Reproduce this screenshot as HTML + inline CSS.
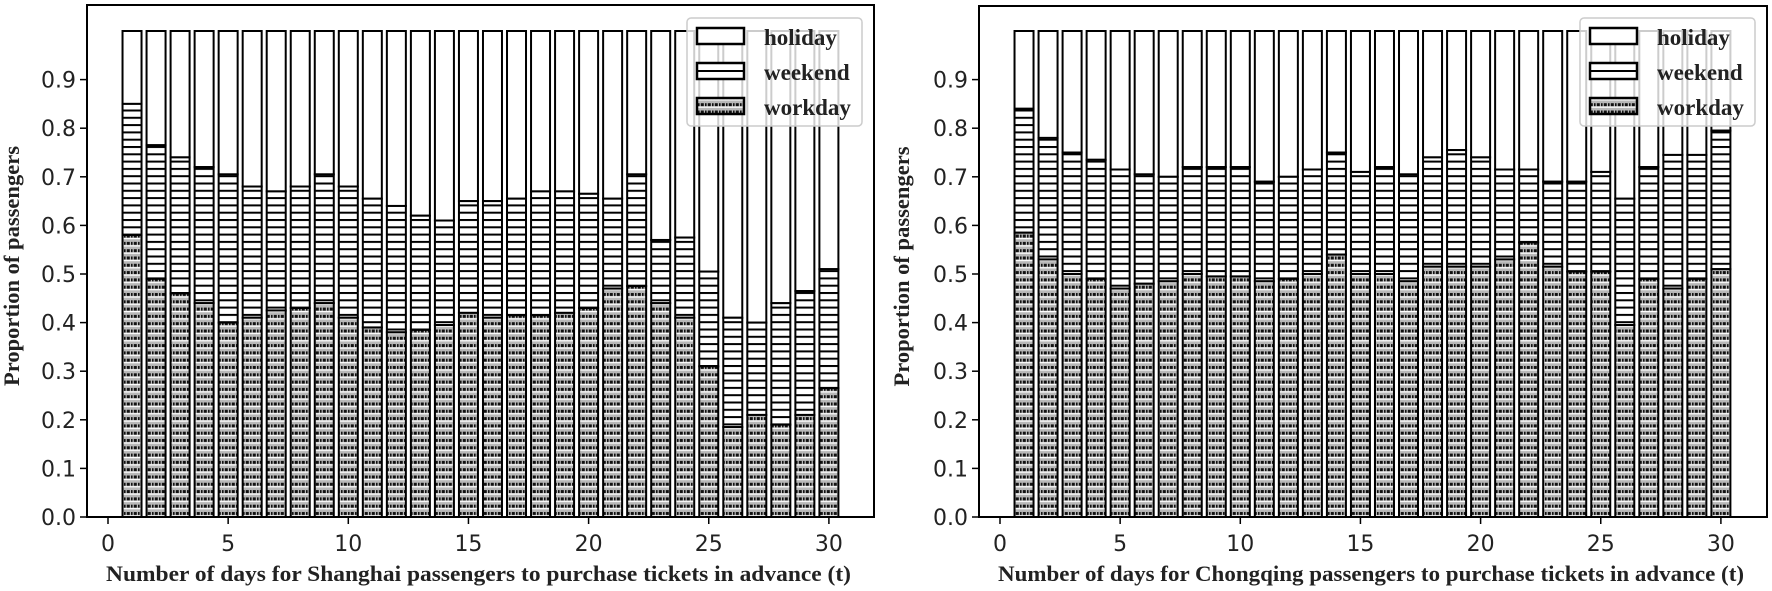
<!DOCTYPE html>
<html><head><meta charset="utf-8">
<style>html,body{margin:0;padding:0;background:#fff}svg{display:block}</style>
</head><body>
<svg id="s" width="1772" height="591" xmlns="http://www.w3.org/2000/svg">
<defs>
<pattern id="hl" patternUnits="userSpaceOnUse" width="8" height="7.3">
<rect width="8" height="7.3" fill="#fff"/><rect y="0" width="8" height="2" fill="#000"/>
</pattern>
<pattern id="dt" patternUnits="userSpaceOnUse" width="7" height="7.3">
<rect width="7" height="7.3" fill="#b8b8b8"/>
<rect x="0" y="4.3" width="7" height="1.3" fill="#fff"/>
<rect x="0.8" y="1" width="3" height="3" fill="#111"/>
<rect x="5" y="1" width="1.6" height="3" fill="#111"/>
</pattern>
</defs>
</svg>
<script>
const S=document.getElementById('s');let h='';
const sh=[[.58,.85],[.49,.765],[.46,.74],[.44,.72],[.40,.705],[.41,.68],[.425,.67],[.43,.68],[.44,.705],[.41,.68],[.39,.655],[.38,.64],[.385,.62],[.395,.61],[.42,.65],[.41,.65],[.415,.655],[.415,.67],[.42,.67],[.43,.665],[.47,.655],[.475,.705],[.44,.57],[.41,.575],[.31,.505],[.185,.41],[.21,.40],[.19,.44],[.21,.465],[.265,.51]];
const cq=[[.585,.84],[.53,.78],[.50,.75],[.49,.735],[.47,.715],[.48,.705],[.485,.70],[.50,.72],[.495,.72],[.495,.72],[.485,.69],[.49,.70],[.50,.715],[.54,.75],[.50,.71],[.50,.72],[.485,.705],[.515,.74],[.515,.755],[.515,.74],[.53,.715],[.565,.715],[.515,.69],[.505,.69],[.505,.71],[.395,.655],[.49,.72],[.47,.745],[.49,.745],[.51,.795]];
function plot(L,R,T,x0,data,city,ylx){
 const y0=517,u=24.03,k=486;const Y=v=>y0-v*k,X=t=>x0+t*u;
 for(let i=0;i<30;i++){const t=i+1,w=19,x=X(t)-w/2,a=data[i][0],b=data[i][1];
  h+=`<rect x="${x}" y="${Y(1)}" width="${w}" height="${Y(b)-Y(1)}" fill="#fff" stroke="#000" stroke-width="2"/>`;
  h+=`<rect x="${x}" y="${Y(b)}" width="${w}" height="${Y(a)-Y(b)}" fill="url(#hl)" stroke="#000" stroke-width="2"/>`;
  h+=`<rect x="${x}" y="${Y(a)}" width="${w}" height="${Y(0)-Y(a)}" fill="url(#dt)" stroke="#000" stroke-width="2"/>`;}
 h+=`<rect x="${L}" y="${T}" width="${R-L}" height="${y0-T}" fill="none" stroke="#000" stroke-width="2"/>`;
 for(let j=0;j<=9;j++){const y=Y(j/10);h+=`<line x1="${L-7}" x2="${L}" y1="${y}" y2="${y}" stroke="#000" stroke-width="1.5"/><text x="${L-11}" y="${y+8}" text-anchor="end" font-family="DejaVu Sans" font-size="22" fill="#222">${(j/10).toFixed(1)}</text>`;}
 for(let t=0;t<=30;t+=5){const x=X(t);h+=`<line x1="${x}" x2="${x}" y1="${y0}" y2="${y0+7}" stroke="#000" stroke-width="1.5"/><text x="${x}" y="${y0+34}" text-anchor="middle" font-family="DejaVu Sans" font-size="22" fill="#222">${t}</text>`;}
 h+=`<text x="${(L+R)/2-2}" y="581" text-anchor="middle" font-family="Liberation Serif" font-weight="bold" font-size="22" textLength="${R-L-42}" lengthAdjust="spacingAndGlyphs" fill="#222">Number of days for ${city} passengers to purchase tickets in advance (t)</text>`;
 h+=`<text transform="translate(${ylx},${(T+y0)/2+5}) rotate(-90)" text-anchor="middle" font-family="Liberation Serif" font-weight="bold" font-size="22" textLength="240" lengthAdjust="spacingAndGlyphs" fill="#222">Proportion of passengers</text>`;
 const lx=R-187;
 h+=`<rect x="${lx}" y="18" width="175" height="108" rx="4" fill="#fff" fill-opacity="0.8" stroke="#ccc" stroke-width="1.5"/>`;
 h+=`<rect x="${lx+10}" y="28" width="47" height="16" fill="#fff" stroke="#000" stroke-width="2.5"/>`;
 h+=`<rect x="${lx+10}" y="63" width="47" height="16" fill="#fff" stroke="#000" stroke-width="2.5"/><line x1="${lx+10}" x2="${lx+57}" y1="71" y2="71" stroke="#000" stroke-width="2"/>`;
 h+=`<rect x="${lx+10}" y="98" width="47" height="16" fill="url(#dt)" stroke="#000" stroke-width="2.5"/>`;
 [["holiday",45],["weekend",80],["workday",115]].forEach(([s,y])=>h+=`<text x="${lx+77}" y="${y}" font-family="Liberation Serif" font-weight="bold" font-size="23" fill="#222">${s}</text>`);
}
plot(87,874,5,108,sh,"Shanghai",19);
plot(979,1767,6,1000,cq,"Chongqing",909);
S.insertAdjacentHTML('beforeend',h);
</script>
</body></html>
